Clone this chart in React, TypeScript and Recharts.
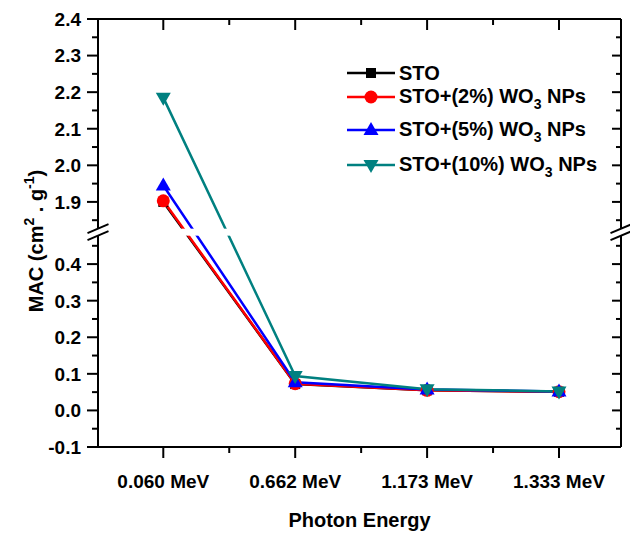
import React from 'react';
import { LineChart, Line, XAxis, YAxis, Legend, ReferenceLine } from 'recharts';

// photon energies on the x axis
const categories = ['0.060 MeV', '0.662 MeV', '1.173 MeV', '1.333 MeV'];

// MAC values (cm2/g)
const sto = [1.9, 0.072, 0.055, 0.051];
const wo2 = [1.903, 0.073, 0.055, 0.051];
const wo5 = [1.945, 0.077, 0.057, 0.052];
const wo10 = [2.185, 0.094, 0.058, 0.052];

// y axis is broken: lower segment and upper segment tick labels
const yLowerTicks = [-0.1, 0.0, 0.1, 0.2, 0.3, 0.4];
const yUpperTicks = [1.9, 2.0, 2.1, 2.2, 2.3, 2.4];

const OFFSET = 1.33; // gap removed from the axis
const BREAK_AT = 0.49; // break position on the compressed axis
const toAxis = (v: number) => (v > 1 ? v - OFFSET : v);
const fromAxis = (t: number) => (t > BREAK_AT ? t + OFFSET : t);

const series = [
  { key: 'sto', values: sto, color: '#000000', shape: 'square', name: 'STO', sub: '', tail: '' },
  { key: 'wo2', values: wo2, color: '#FF0000', shape: 'circle', name: 'STO+(2%) WO', sub: '3', tail: ' NPs' },
  { key: 'wo5', values: wo5, color: '#0000FF', shape: 'triangle', name: 'STO+(5%) WO', sub: '3', tail: ' NPs' },
  { key: 'wo10', values: wo10, color: '#008080', shape: 'down', name: 'STO+(10%) WO', sub: '3', tail: ' NPs' },
];

const data = categories.map((c, i) => {
  const row: any = { x: i + 1, label: c };
  series.forEach((s) => {
    row[s.key] = toAxis(s.values[i]);
  });
  return row;
});

const majorY = [...yLowerTicks, ...yUpperTicks].map(toAxis);
const minorY = [...yLowerTicks.map((v) => v + 0.05), ...yUpperTicks.map((v) => v - 0.05)].map(toAxis);
const yTicks = [...majorY, ...minorY].sort((a, b) => a - b);
const xTicks = [1, 1.5, 2, 2.5, 3, 3.5, 4];
const X_DOMAIN = [0.505, 4.47];
const Y_DOMAIN = [-0.1, 2.4 - OFFSET];

const FONT = '"Liberation Sans", Arial, sans-serif';
const isMajorY = (v: number) => majorY.some((m) => Math.abs(m - v) < 1e-6);

const Marker = ({ shape, cx, cy, color }: any) => {
  if (cx == null || cy == null) return null;
  if (shape === 'square') return <rect x={cx - 5} y={cy - 5} width={10} height={10} fill={color} />;
  if (shape === 'circle') return <circle cx={cx} cy={cy} r={6.5} fill={color} />;
  if (shape === 'triangle')
    return <polygon points={`${cx},${cy - 8} ${cx - 7.5},${cy + 5} ${cx + 7.5},${cy + 5}`} fill={color} />;
  return <polygon points={`${cx - 7.5},${cy - 5} ${cx + 7.5},${cy - 5} ${cx},${cy + 8}`} fill={color} />;
};

const LeftTick = ({ x, y, payload }: any) => {
  const major = isMajorY(payload.value);
  return (
    <g>
      <line x1={x} x2={x - (major ? 11 : 6)} y1={y} y2={y} stroke="#000" strokeWidth={2} />
      {major && (
        <text x={x - 17} y={y} dy="0.36em" textAnchor="end" fontFamily={FONT} fontWeight="bold" fontSize={19} fill="#000">
          {fromAxis(payload.value).toFixed(1)}
        </text>
      )}
    </g>
  );
};

const RightTick = ({ x, y, payload }: any) => {
  const major = isMajorY(payload.value);
  return <line x1={x} x2={x - (major ? 9 : 5)} y1={y} y2={y} stroke="#000" strokeWidth={2} />;
};

const BottomTick = ({ x, y, payload }: any) => {
  const major = Number.isInteger(payload.value);
  return (
    <g>
      <line x1={x} x2={x} y1={y} y2={y + (major ? 11 : 6)} stroke="#000" strokeWidth={2} />
      {major && (
        <text x={x} y={y + 41} textAnchor="middle" fontFamily={FONT} fontWeight="bold" fontSize={19} fill="#000">
          {categories[payload.value - 1]}
        </text>
      )}
    </g>
  );
};

const TopTick = ({ x, y, payload }: any) => {
  const major = Number.isInteger(payload.value);
  return <line x1={x} x2={x} y1={y} y2={y + (major ? 11 : 6)} stroke="#000" strokeWidth={2} />;
};

const YTitle = ({ viewBox }: any) => {
  const cx = 43;
  const cy = viewBox.y + viewBox.height / 2 + 8;
  return (
    <text
      x={cx}
      y={cy}
      transform={`rotate(-90, ${cx}, ${cy})`}
      textAnchor="middle"
      fontFamily={FONT}
      fontWeight="bold"
      fontSize={20}
      fill="#000"
    >
      MAC (cm
      <tspan dy={-9} fontSize={14}>2</tspan>
      <tspan dy={9}> . g</tspan>
      <tspan dy={-9} fontSize={14}>-1</tspan>
      <tspan dy={9}>)</tspan>
    </text>
  );
};

const XTitle = ({ viewBox }: any) => (
  <text
    x={viewBox.x + viewBox.width / 2}
    y={viewBox.y + 80}
    textAnchor="middle"
    fontFamily={FONT}
    fontWeight="bold"
    fontSize={20}
    fill="#000"
  >
    Photon Energy
  </text>
);

const BreakMark = ({ x1, x2, y1 }: any) => {
  const c = y1 + 1;
  const slash = (ax: number) => (
    <g>
      <line x1={ax - 10.5} y1={c + 1} x2={ax + 10.5} y2={c - 8} stroke="#000" strokeWidth={2} />
      <line x1={ax - 10.5} y1={c + 8} x2={ax + 10.5} y2={c - 1} stroke="#000" strokeWidth={2} />
    </g>
  );
  return (
    <g>
      <rect x={x1 - 14} y={c - 3.5} width={x2 - x1 + 28} height={7} fill="#fff" />
      {slash(x1)}
      {slash(x2)}
    </g>
  );
};

const rowGaps = [0, 0, 9, 11];

const LegendBox = () => (
  <div style={{ fontFamily: FONT, fontWeight: 'bold', fontSize: 20, color: '#000' }}>
    {series.map((s, i) => (
      <div key={s.key} style={{ display: 'flex', alignItems: 'center', height: 24, marginTop: rowGaps[i] }}>
        <svg width={53} height={24} style={{ display: 'block' }}>
          <line x1={1} x2={49} y1={12} y2={12} stroke={s.color} strokeWidth={2.5} />
          <Marker shape={s.shape} cx={25} cy={12} color={s.color} />
        </svg>
        <span style={{ whiteSpace: 'nowrap', lineHeight: '24px' }}>
          {s.name}
          {s.sub && <span style={{ fontSize: 14, position: 'relative', top: 6 }}>{s.sub}</span>}
          {s.tail}
        </span>
      </div>
    ))}
  </div>
);

export default function App() {
  return (
    <div style={{ position: 'absolute', left: 0, top: 0, width: 630, height: 533, background: '#fff' }}>
      <LineChart width={630} height={533} data={data} margin={{ top: 18, right: 9, left: 0, bottom: 0 }}>
        <XAxis
          xAxisId="bottom"
          dataKey="x"
          type="number"
          domain={X_DOMAIN}
          ticks={xTicks}
          interval={0}
          allowDataOverflow
          height={86}
          tickSize={0}
          tickMargin={0}
          tickLine={false}
          tick={<BottomTick />}
          axisLine={{ stroke: '#000', strokeWidth: 2 }}
          label={{ content: <XTitle /> }}
        />
        <XAxis
          xAxisId="top"
          dataKey="x"
          orientation="top"
          type="number"
          domain={X_DOMAIN}
          ticks={xTicks}
          interval={0}
          allowDataOverflow
          height={1}
          tickSize={0}
          tickMargin={0}
          tickLine={false}
          tick={<TopTick />}
          axisLine={{ stroke: '#000', strokeWidth: 2 }}
        />
        <YAxis
          yAxisId="left"
          type="number"
          domain={Y_DOMAIN}
          ticks={yTicks}
          interval={0}
          allowDataOverflow
          width={98}
          tickSize={0}
          tickMargin={0}
          tickLine={false}
          tick={<LeftTick />}
          axisLine={{ stroke: '#000', strokeWidth: 2 }}
          label={{ content: <YTitle /> }}
        />
        <YAxis
          yAxisId="right"
          orientation="right"
          type="number"
          domain={Y_DOMAIN}
          ticks={yTicks}
          interval={0}
          allowDataOverflow
          width={1}
          mirror
          tickSize={0}
          tickMargin={0}
          tickLine={false}
          tick={<RightTick />}
          axisLine={{ stroke: '#000', strokeWidth: 2 }}
        />
        {series.map((s) => (
          <Line
            key={s.key}
            xAxisId="bottom"
            yAxisId="left"
            dataKey={s.key}
            name={s.name}
            stroke={s.color}
            strokeWidth={2.5}
            isAnimationActive={false}
            dot={(p: any) => <Marker key={`${s.key}-${p.index}`} shape={s.shape} cx={p.cx} cy={p.cy} color={s.color} />}
            activeDot={false}
          />
        ))}
        {/* hidden series so the top and right axes are drawn with the same scales */}
        <Line
          xAxisId="top"
          yAxisId="right"
          dataKey="sto"
          stroke="none"
          dot={false}
          activeDot={false}
          legendType="none"
          isAnimationActive={false}
        />
        <ReferenceLine xAxisId="bottom" yAxisId="left" y={BREAK_AT} shape={<BreakMark />} zIndex={2000} />
        <Legend
          layout="vertical"
          align="center"
          verticalAlign="middle"
          wrapperStyle={{ left: 346, top: 61, width: 280 }}
          content={<LegendBox />}
        />
      </LineChart>
    </div>
  );
}
